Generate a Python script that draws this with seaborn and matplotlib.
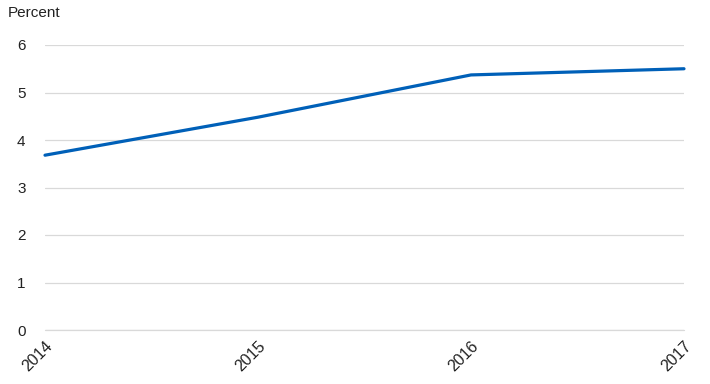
import matplotlib
matplotlib.use("Agg")
import matplotlib.pyplot as plt
import seaborn as sns
import pandas as pd

years = ["2014", "2015", "2016", "2017"]
values = [3.68, 4.48, 5.37, 5.50]
yticks = [0, 1, 2, 3, 4, 5, 6]

sns.set_theme(style="white")
plt.rcParams['font.family'] = ['Liberation Sans', 'DejaVu Sans']

df = pd.DataFrame({"year": range(len(years)), "value": values})

fig = plt.figure(figsize=(7.10, 3.84), dpi=100)
ax = fig.add_axes([45/710, 1-330/384, (684-45)/710, (330-45)/384])
sns.lineplot(data=df, x="year", y="value", ax=ax, color="#0060B8", linewidth=2.3)

ax.set_xlim(0, len(years)-1)
ax.set_ylim(0, 6)
ax.set_yticks(yticks)
ax.set_yticklabels([str(t) for t in yticks], fontsize=11, color="#222222")
ax.set_xticks(range(len(years)))
ax.set_xticklabels(years, rotation=45, ha="right", rotation_mode="anchor", fontsize=11.5, color="#222222")
ax.tick_params(axis="both", length=0)
ax.tick_params(axis="y", pad=14)
ax.tick_params(axis="x", pad=6)
ax.set_xlabel("")
ax.set_ylabel("")
ax.grid(axis="y", color="#d9d9d9", linewidth=0.9)
ax.axhline(0, color="#d9d9d9", linewidth=0.9, clip_on=False, zorder=1)
ax.set_axisbelow(True)
for s in ax.spines.values():
    s.set_visible(False)
ax.get_lines()[0].set_clip_on(False)
ax.get_lines()[0].set_zorder(5)
fig.text(8/710, 1-13/384, "Percent", fontsize=11, color="#222222", va="center", ha="left")

fig.savefig("out.png", dpi=100)
